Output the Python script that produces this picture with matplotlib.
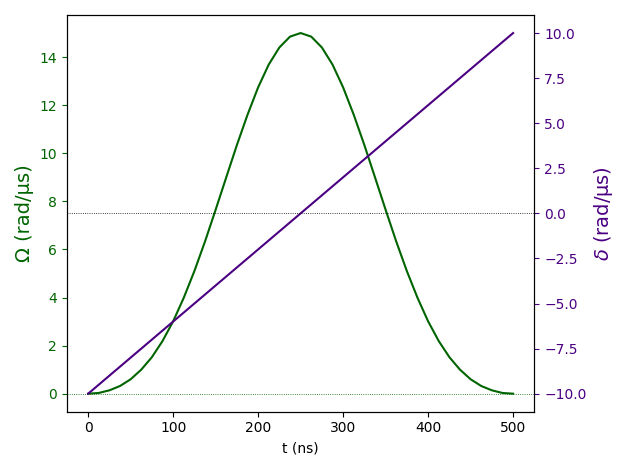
import matplotlib
matplotlib.use("Agg")
import matplotlib.pyplot as plt

t_omega = [0, 12.5, 25, 37.5, 50, 62.5, 75, 87.5, 100, 112.5, 125, 137.5, 150,
           162.5, 175, 187.5, 200, 212.5, 225, 237.5, 250,
           262.5, 275, 287.5, 300, 312.5, 325, 337.5, 350, 362.5, 375,
           387.5, 400, 412.5, 425, 437.5, 450, 462.5, 475, 487.5, 500]
omega = [0.0, 0.03, 0.14, 0.32, 0.60, 1.00, 1.52, 2.19, 3.01, 3.99, 5.10, 6.33, 7.65,
         9.00, 10.34, 11.60, 12.74, 13.69, 14.40, 14.85, 15.0,
         14.85, 14.40, 13.69, 12.74, 11.60, 10.34, 9.00, 7.65, 6.33, 5.10,
         3.99, 3.01, 2.19, 1.52, 1.00, 0.60, 0.32, 0.14, 0.03, 0.0]
t_delta = [0, 500]
delta = [-10.0, 10.0]

fig, ax = plt.subplots(figsize=(6.3, 4.7), dpi=100)
ax.plot(t_omega, omega, color="darkgreen")
ax.axhline(0, color="darkgreen", linestyle=":", linewidth=0.6)
ax.set_xlabel("t (ns)")
ax.set_ylabel("Ω (rad/µs)", color="darkgreen", fontsize=14)
ax.tick_params(axis="y", colors="darkgreen")
ax.set_xticks([0, 100, 200, 300, 400, 500])

ax2 = ax.twinx()
ax2.plot(t_delta, delta, color="indigo")
ax2.axhline(0, color="black", linestyle=":", linewidth=0.6)
ax2.set_ylabel(r"$\delta$ (rad/µs)", color="indigo", fontsize=14)
ax2.tick_params(axis="y", colors="indigo")

fig.tight_layout()
fig.savefig("out.png", dpi=100)
